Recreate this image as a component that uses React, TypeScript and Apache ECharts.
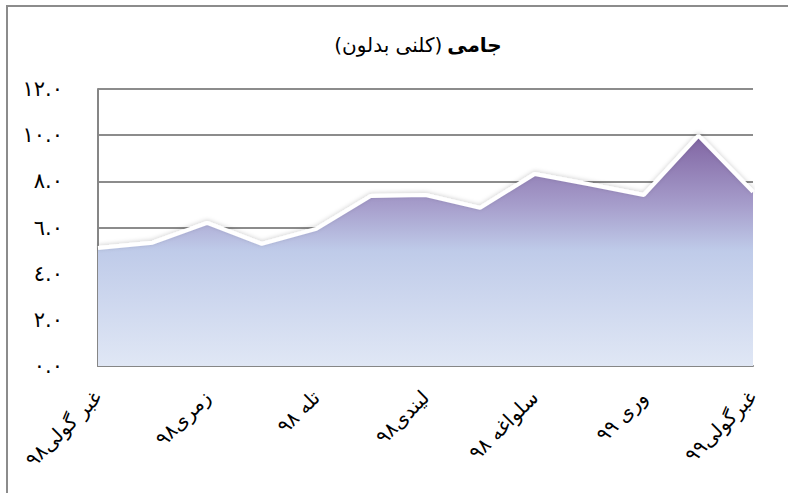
import React, { useEffect, useRef } from "react";
import * as echarts from "echarts";

const categories = [
  "غبر گولی۹۸",
  "چنگاښ۹۸",
  "زمری۹۸",
  "وږی۹۸",
  "تله ۹۸",
  "لړم۹۸",
  "لیندی۹۸",
  "مرغومی۹۸",
  "سلواغه ۹۸",
  "کب۹۸",
  "وری ۹۹",
  "غویی۹۹",
  "غبرگولی۹۹",
];
const values = [5.11, 5.34, 6.2, 5.29, 5.94, 7.37, 7.41, 6.85, 8.32, 7.87, 7.41, 9.98, 7.54];
const yTickLabels: Record<string, string> = {
  "0": "٠.٠",
  "2": "٢.٠",
  "4": "٤.٠",
  "6": "٦.٠",
  "8": "٨.٠",
  "10": "١٠.٠",
  "12": "١٢.٠",
};
const titleBold = "جامی";
const titleNormal = "(کلنی بدلون)";

export default function App() {
  const ref = useRef<HTMLDivElement>(null);
  useEffect(() => {
    if (!ref.current) return;
    const chart = echarts.init(ref.current, null, { renderer: "svg" });
    const font = "DejaVu Sans";
    chart.setOption({
      animation: false,
      backgroundColor: "#ffffff",
      title: {
        text: `{n|${titleNormal}} {b|${titleBold}}`,
        left: 413,
        top: 30,
        textAlign: "center",
        textStyle: {
          rich: {
            n: { fontFamily: font, fontSize: 20, color: "#000", fontWeight: "normal" },
            b: { fontFamily: font, fontSize: 20, color: "#000", fontWeight: "bold" },
          },
        },
      },
      graphic: [
        {
          type: "rect",
          shape: { x: 7, y: 6, width: 820, height: 520 },
          style: { fill: "none", stroke: "#8c8c8c", lineWidth: 2 },
          silent: true,
        },
      ],
      grid: { left: 98, right: 35, top: 89, bottom: 127 },
      xAxis: {
        type: "category",
        data: categories,
        boundaryGap: false,
        axisLine: { show: true, lineStyle: { color: "#868686", width: 2 } },
        axisTick: { show: false },
        axisLabel: {
          interval: 1,
          rotate: 45,
          margin: 28,
          fontFamily: font,
          fontSize: 20,
          color: "#000",
        },
        splitLine: { show: false },
      },
      yAxis: {
        type: "value",
        min: 0,
        max: 12,
        interval: 2,
        axisLine: { show: true, lineStyle: { color: "#868686", width: 2 } },
        axisTick: { show: false },
        axisLabel: {
          margin: 35,
          fontFamily: font,
          fontSize: 21,
          color: "#000",
          formatter: (v: number) => yTickLabels[String(v)] ?? String(v),
        },
        splitLine: { show: true, lineStyle: { color: "#8c8c8c", width: 2 } },
      },
      series: [
        {
          type: "line",
          data: values,
          showSymbol: false,
          symbol: "none",
          lineStyle: {
            color: "#ffffff",
            width: 4,
            shadowColor: "rgba(0,0,0,0.18)",
            shadowBlur: 4,
            shadowOffsetY: -1,
          },
          areaStyle: {
            opacity: 1,
            color: new echarts.graphic.LinearGradient(0, 0, 0, 1, [
              { offset: 0, color: "#8064a2" },
              { offset: 0.3, color: "#a69dcb" },
              { offset: 0.5, color: "#bfcbe9" },
              { offset: 1, color: "#e0e7f5" },
            ]),
          },
        },
      ],
    });
    return () => chart.dispose();
  }, []);
  return (
    <div
      ref={ref}
      style={{ position: "fixed", left: 0, top: 0, width: 788, height: 493 }}
    />
  );
}
